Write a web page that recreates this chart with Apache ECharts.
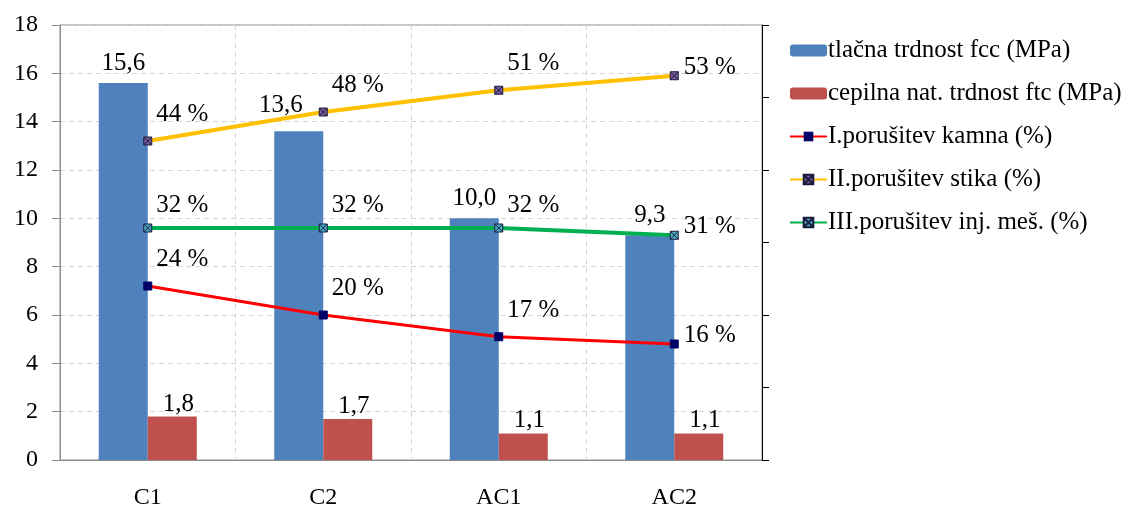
<!DOCTYPE html>
<html>
<head>
<meta charset="utf-8">
<script src="https://cdn.jsdelivr.net/npm/echarts@6/dist/echarts.min.js"></script>
<style>
  html, body { margin: 0; padding: 0; background: #fff; }
  #chart { width: 1139px; height: 510px; }
</style>
</head>
<body>
<div id="chart"></div>
<script>
    // kategorije in podatki
    var categories = ['C1', 'C2', 'AC1', 'AC2'];
    var fcc = [15.6, 13.6, 10.0, 9.3];
    var ftc = [1.8, 1.7, 1.1, 1.1];
    var kamna = [24, 20, 17, 16];
    var stika = [44, 48, 51, 53];
    var injMes = [32, 32, 32, 31];
    var names = [
        'tlačna trdnost fcc (MPa)',
        'cepilna nat. trdnost ftc (MPa)',
        'I.porušitev kamna (%)',
        'II.porušitev stika (%)',
        'III.porušitev inj. meš. (%)'
    ];

    var font = 'Liberation Serif';
    var fs = 25;
    var xMark = 'path://M0,0 L10,0 L10,10 L0,10 Z M0,0 L10,10 M10,0 L0,10';

    // oznake ob tockah crt (zadnja tocka bolj desno in nizje)
    function lineData(arr) {
        return arr.map(function(v, i) {
            if (i == arr.length - 1) {
                return { value: v, label: { position: [14, -4] } };
            }
            return v;
        });
    }

    function comma(v) {
        return v.toFixed(1).replace('.', ',');
    }

    var chart = echarts.init(document.getElementById('chart'));
    var option = {
        animation: false,
        textStyle: { fontFamily: font },
        grid: {
            left: 60,
            right: 377,
            top: 25,
            bottom: 50,
            show: true,
            borderColor: '#8c8c8c',
            borderWidth: 1
        },
        legend: {
            orient: 'vertical',
            left: 784,
            top: 33,
            itemWidth: 37,
            itemHeight: 12,
            itemGap: 18,
            textStyle: { fontFamily: font, fontSize: 25, lineHeight: 24, color: '#000', padding: [0, 0, 0, -4] },
            data: names
        },
        xAxis: {
            type: 'category',
            data: categories,
            axisLine: { lineStyle: { color: '#8c8c8c', width: 1 } },
            axisTick: { length: 8, lineStyle: { color: '#8c8c8c' } },
            axisLabel: { color: '#000', fontSize: 24, fontFamily: font, margin: 26 },
            splitLine: { show: true, lineStyle: { color: '#d4d4d4', type: [5, 4] } }
        },
        yAxis: [{
            type: 'value',
            min: 0,
            max: 18,
            interval: 2,
            axisLine: { show: true, lineStyle: { color: '#8c8c8c' } },
            axisTick: { show: true, length: 8, lineStyle: { color: '#8c8c8c' } },
            axisLabel: { color: '#000', fontSize: 24, fontFamily: font, margin: 22 },
            splitLine: { lineStyle: { color: '#d4d4d4', type: [5, 4] } }
        }, {
            type: 'value',
            min: 0,
            max: 60,
            interval: 10,
            position: 'right',
            axisLine: { show: true, lineStyle: { color: '#000' } },
            axisTick: { show: true, length: 7, lineStyle: { color: '#000' } },
            axisLabel: { show: false },
            splitLine: { show: false }
        }],
        series: [{
            name: names[0],
            type: 'bar',
            barWidth: 49,
            barGap: '0%',
            itemStyle: { color: '#4F81BD' },
            label: {
                show: true, position: 'top', distance: 7,
                fontSize: fs, fontFamily: font, color: '#000',
                formatter: function(p) { return comma(p.value); }
            },
            data: fcc.map(function(v, i) {
                if (i == 1) return { value: v, label: { offset: [-18, -6] } };
                return v;
            })
        }, {
            name: names[1],
            type: 'bar',
            barWidth: 49,
            itemStyle: { color: '#C0504D' },
            label: {
                show: true, position: 'top', distance: 0, offset: [6, 0],
                fontSize: fs, fontFamily: font, color: '#000',
                formatter: function(p) { return comma(p.value); }
            },
            data: ftc
        }, {
            name: names[2],
            type: 'line',
            yAxisIndex: 1,
            symbol: 'rect',
            symbolSize: 8,
            lineStyle: { color: '#FF0000', width: 3 },
            itemStyle: { color: '#000066', borderColor: '#000066' },
            label: {
                show: true, position: [13, -22], align: 'left', verticalAlign: 'middle',
                fontSize: fs, fontFamily: font, color: '#000',
                formatter: '{c} %'
            },
            data: lineData(kamna)
        }, {
            name: names[3],
            type: 'line',
            yAxisIndex: 1,
            symbol: xMark,
            symbolSize: 8,
            lineStyle: { color: '#FFC000', width: 4 },
            itemStyle: { color: '#7a5a9e', borderColor: '#1a1a3a', borderWidth: 1 },
            label: {
                show: true, position: [13, -22], align: 'left', verticalAlign: 'middle',
                fontSize: fs, fontFamily: font, color: '#000',
                formatter: '{c} %'
            },
            data: lineData(stika)
        }, {
            name: names[4],
            type: 'line',
            yAxisIndex: 1,
            symbol: xMark,
            symbolSize: 8,
            lineStyle: { color: '#00B050', width: 4 },
            itemStyle: { color: '#4BACC6', borderColor: '#1a1a3a', borderWidth: 1 },
            label: {
                show: true, position: [13, -18], align: 'left', verticalAlign: 'middle',
                fontSize: fs, fontFamily: font, color: '#000',
                formatter: '{c} %'
            },
            data: lineData(injMes)
        }]
    };
    chart.setOption(option);
</script>
</body>
</html>
